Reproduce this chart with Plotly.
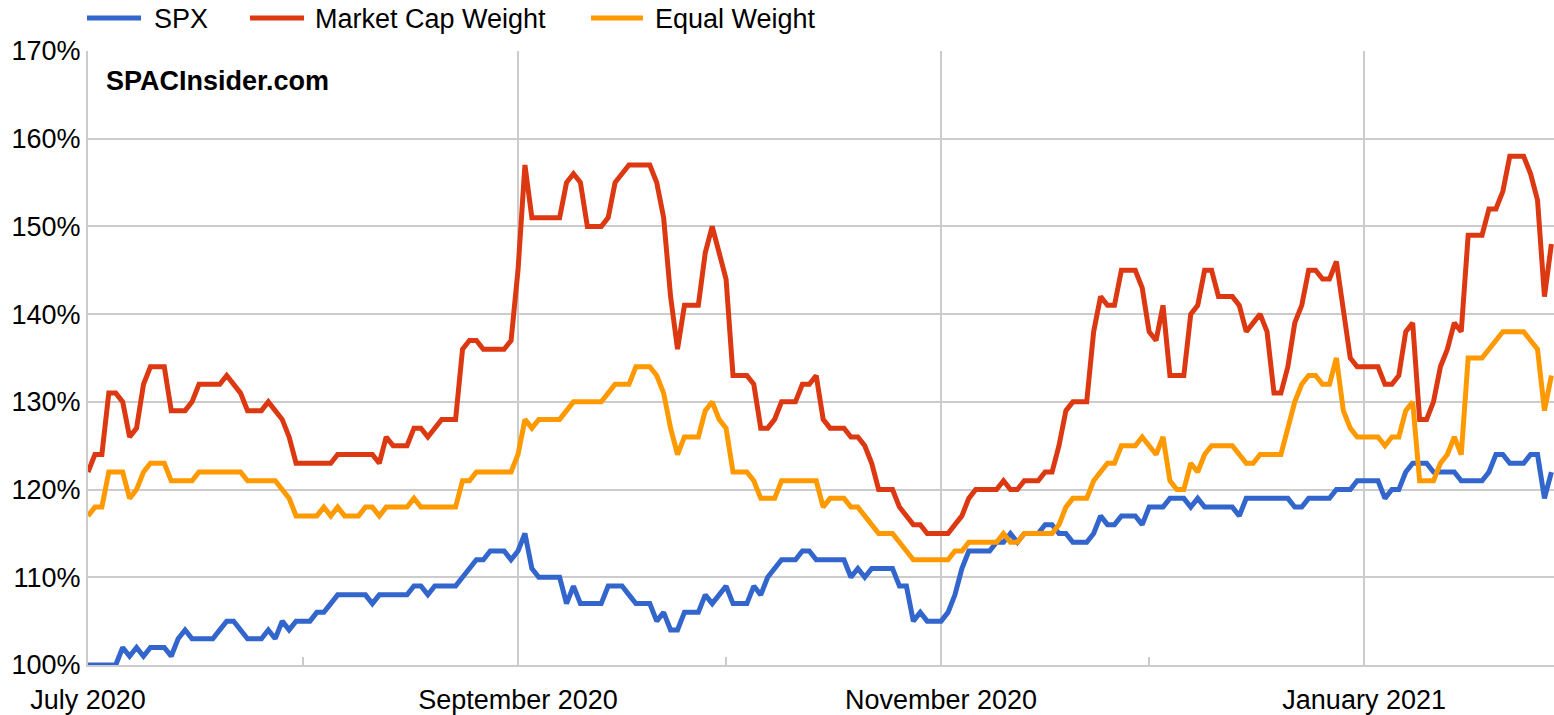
import pandas as pd
import plotly.graph_objects as go

start_date = "2020-07-01"

spx = [100, 100, 100, 100, 100, 102, 101, 102, 101, 102, 102, 102, 101, 103, 104, 103, 103, 103, 103, 104,
       105, 105, 104, 103, 103, 103, 104, 103, 105, 104, 105, 105, 105, 106, 106, 107, 108, 108, 108, 108,
       108, 107, 108, 108, 108, 108, 108, 109, 109, 108, 109, 109, 109, 109, 110, 111, 112, 112, 113, 113,
       113, 112, 113, 115, 111, 110, 110, 110, 110, 107, 109, 107, 107, 107, 107, 109, 109, 109, 108, 107,
       107, 107, 105, 106, 104, 104, 106, 106, 106, 108, 107, 108, 109, 107, 107, 107, 109, 108, 110, 111,
       112, 112, 112, 113, 113, 112, 112, 112, 112, 112, 110, 111, 110, 111, 111, 111, 111, 109, 109, 105,
       106, 105, 105, 105, 106, 108, 111, 113, 113, 113, 113, 114, 114, 115, 114, 115, 115, 115, 116, 116,
       115, 115, 114, 114, 114, 115, 117, 116, 116, 117, 117, 117, 116, 118, 118, 118, 119, 119, 119, 118,
       119, 118, 118, 118, 118, 118, 117, 119, 119, 119, 119, 119, 119, 119, 118, 118, 119, 119, 119, 119,
       120, 120, 120, 121, 121, 121, 121, 119, 120, 120, 122, 123, 123, 123, 122, 122, 122, 122, 121, 121,
       121, 121, 122, 124, 124, 123, 123, 123, 124, 124, 119, 122]

market_cap = [122, 124, 124, 131, 131, 130, 126, 127, 132, 134, 134, 134, 129, 129, 129, 130, 132, 132, 132, 132,
              133, 132, 131, 129, 129, 129, 130, 129, 128, 126, 123, 123, 123, 123, 123, 123, 124, 124, 124, 124,
              124, 124, 123, 126, 125, 125, 125, 127, 127, 126, 127, 128, 128, 128, 136, 137, 137, 136, 136, 136,
              136, 137, 145, 157, 151, 151, 151, 151, 151, 155, 156, 155, 150, 150, 150, 151, 155, 156, 157, 157,
              157, 157, 155, 151, 142, 136, 141, 141, 141, 147, 150, 147, 144, 133, 133, 133, 132, 127, 127, 128,
              130, 130, 130, 132, 132, 133, 128, 127, 127, 127, 126, 126, 125, 123, 120, 120, 120, 118, 117, 116,
              116, 115, 115, 115, 115, 116, 117, 119, 120, 120, 120, 120, 121, 120, 120, 121, 121, 121, 122, 122,
              125, 129, 130, 130, 130, 138, 142, 141, 141, 145, 145, 145, 143, 138, 137, 141, 133, 133, 133, 140,
              141, 145, 145, 142, 142, 142, 141, 138, 139, 140, 138, 131, 131, 134, 139, 141, 145, 145, 144, 144,
              146, 140, 135, 134, 134, 134, 134, 132, 132, 133, 138, 139, 128, 128, 130, 134, 136, 139, 138, 149,
              149, 149, 152, 152, 154, 158, 158, 158, 156, 153, 142, 148]

equal_weight = [117, 118, 118, 122, 122, 122, 119, 120, 122, 123, 123, 123, 121, 121, 121, 121, 122, 122, 122, 122,
                122, 122, 122, 121, 121, 121, 121, 121, 120, 119, 117, 117, 117, 117, 118, 117, 118, 117, 117, 117,
                118, 118, 117, 118, 118, 118, 118, 119, 118, 118, 118, 118, 118, 118, 121, 121, 122, 122, 122, 122,
                122, 122, 124, 128, 127, 128, 128, 128, 128, 129, 130, 130, 130, 130, 130, 131, 132, 132, 132, 134,
                134, 134, 133, 131, 127, 124, 126, 126, 126, 129, 130, 128, 127, 122, 122, 122, 121, 119, 119, 119,
                121, 121, 121, 121, 121, 121, 118, 119, 119, 119, 118, 118, 117, 116, 115, 115, 115, 114, 113, 112,
                112, 112, 112, 112, 112, 113, 113, 114, 114, 114, 114, 114, 115, 114, 114, 115, 115, 115, 115, 115,
                116, 118, 119, 119, 119, 121, 122, 123, 123, 125, 125, 125, 126, 125, 124, 126, 121, 120, 120, 123,
                122, 124, 125, 125, 125, 125, 124, 123, 123, 124, 124, 124, 124, 127, 130, 132, 133, 133, 132, 132,
                135, 129, 127, 126, 126, 126, 126, 125, 126, 126, 129, 130, 121, 121, 121, 123, 124, 126, 124, 135,
                135, 135, 136, 137, 138, 138, 138, 138, 137, 136, 129, 133]

series_names = ["SPX", "Market Cap Weight", "Equal Weight"]
series_colors = ["#3366cc", "#dc3912", "#ff9900"]

dates = pd.date_range(start_date, periods=len(spx), freq="D")

FONT = "Arial, 'Liberation Sans', Helvetica, sans-serif"
GRID = "#cccccc"
FS = 27
LW = 5

W, H = 1554, 715
PLOT_L, PLOT_T, PLOT_W, PLOT_H = 88, 51, 1466, 614

fig = go.Figure()
for name, vals, col in zip(series_names, [spx, market_cap, equal_weight], series_colors):
    fig.add_trace(go.Scatter(
        x=dates, y=vals, name=name, mode="lines", showlegend=False,
        line=dict(color=col, width=LW),
        hovertemplate="%{x|%b %d, %Y}: %{y}%<extra>" + name + "</extra>",
    ))


def px_x(X):
    return (X - PLOT_L) / PLOT_W


def px_y(Y):
    return (PLOT_T + PLOT_H - Y) / PLOT_H


# legend drawn at the top, left to right
legend_pos = [(87, 141, 152), (250, 304, 313), (591, 643, 653)]
shapes = []
annotations = []
for (x0, x1, tx), name, col in zip(legend_pos, series_names, series_colors):
    shapes.append(dict(type="line", xref="paper", yref="paper",
                       x0=px_x(x0), x1=px_x(x1), y0=px_y(18), y1=px_y(18),
                       line=dict(color=col, width=LW), layer="above"))
    annotations.append(dict(text=name, xref="paper", yref="paper",
                            x=px_x(tx), y=px_y(19), xanchor="left", yanchor="middle",
                            showarrow=False, font=dict(size=FS, color="#000000")))

annotations.append(dict(text="<b>SPACInsider.com</b>", xref="paper", yref="paper",
                        x=px_x(104), y=px_y(81), xanchor="left", yanchor="middle",
                        showarrow=False, font=dict(size=FS, color="#000000")))

fig.update_layout(
    width=W, height=H,
    margin=dict(l=PLOT_L, r=W - PLOT_L - PLOT_W, t=PLOT_T, b=H - PLOT_T - PLOT_H, autoexpand=False),
    paper_bgcolor="white", plot_bgcolor="white",
    font=dict(family=FONT, size=FS, color="#000000"),
    showlegend=False,
    shapes=shapes,
    annotations=annotations,
)

fig.update_xaxes(
    type="date",
    range=["2020-07-01", "2021-01-28 09:00"],
    tick0="2020-07-01", dtick="M2", tickformat="%B %Y",
    showgrid=True, gridcolor=GRID, gridwidth=2,
    showline=True, linecolor=GRID, linewidth=2,
    ticks="", ticklabelstandoff=10, automargin=False,
    minor=dict(dtick="M1", tick0="2020-07-01", ticks="inside", ticklen=8, tickcolor=GRID,
               tickwidth=2, showgrid=False),
    zeroline=False,
)
fig.update_yaxes(
    range=[100, 170], dtick=10, tick0=100, ticksuffix="%",
    showgrid=True, gridcolor=GRID, gridwidth=2,
    showline=True, linecolor=GRID, linewidth=2,
    ticks="", ticklabelstandoff=0, zeroline=False, automargin=False,
)

fig.write_html(
    "out.html",
    config={"displayModeBar": False},
    post_script="document.body.style.margin='0px';document.body.style.overflow='hidden';",
)
